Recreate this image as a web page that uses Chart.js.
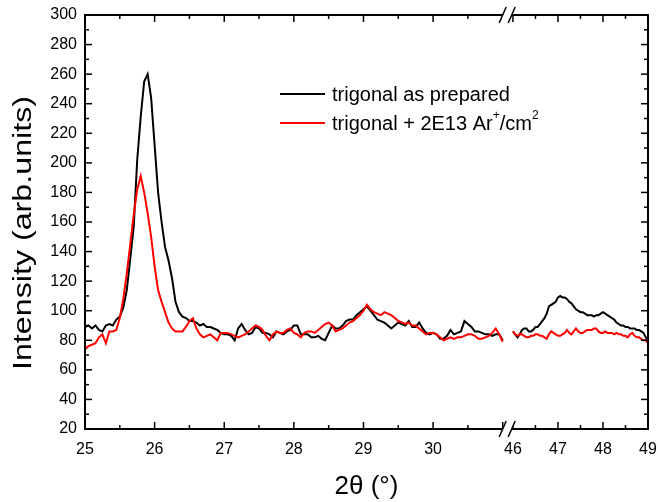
<!DOCTYPE html>
<html>
<head>
<meta charset="utf-8">
<script src="https://cdn.jsdelivr.net/npm/chart.js@4.4.1/dist/chart.umd.min.js"></script>
<style>
  html, body { margin: 0; padding: 0; background: #fff; }
  #caixa { width: 658px; height: 502px; }
</style>
</head>
<body>
<div id="caixa"><canvas id="grafico"></canvas></div>
<script>
// 2theta de 25 a 31 (primeiro trecho do eixo)
const xEsq = [
  25.00, 25.05, 25.10, 25.15, 25.20, 25.25, 25.30, 25.35, 25.40, 25.45, 25.50, 25.55, 25.60, 25.65, 25.70, 25.75, 25.80, 25.85, 25.90, 25.95,
  26.00, 26.05, 26.10, 26.15, 26.20, 26.25, 26.30, 26.35, 26.40, 26.45, 26.50, 26.55, 26.60, 26.65, 26.70, 26.75, 26.80, 26.85, 26.90, 26.95,
  27.00, 27.05, 27.10, 27.15, 27.20, 27.25, 27.30, 27.35, 27.40, 27.45, 27.50, 27.55, 27.60, 27.65, 27.70, 27.75, 27.80, 27.85, 27.90, 27.95,
  28.00, 28.05, 28.10, 28.15, 28.20, 28.25, 28.30, 28.35, 28.40, 28.45, 28.50, 28.55, 28.60, 28.65, 28.70, 28.75, 28.80, 28.85, 28.90, 28.95,
  29.00, 29.05, 29.10, 29.15, 29.20, 29.25, 29.30, 29.35, 29.40, 29.45, 29.50, 29.55, 29.60, 29.65, 29.70, 29.75, 29.80, 29.85, 29.90, 29.95,
  30.00, 30.05, 30.10, 30.15, 30.20, 30.25, 30.30, 30.35, 30.40, 30.45, 30.50, 30.55, 30.60, 30.65, 30.70, 30.75, 30.80, 30.85, 30.90, 30.95,
  31.00
];
const pretoEsq = [
  89, 90, 88, 90, 87, 86, 90, 91, 90, 94, 96, 102, 114, 135, 157, 202, 231, 255, 260, 244,
  212, 180, 160, 143, 134, 122, 106, 99, 96, 95, 93, 93, 92, 90, 91, 89, 89, 88, 87, 85,
  84, 84, 83, 80, 88, 91, 87, 84, 85, 89, 88, 85, 85, 84, 82, 86, 85, 84, 86, 87,
  90, 90, 84, 84, 84, 82, 82, 83, 81, 80, 85, 90, 88, 88, 90, 93, 94, 94, 97, 99,
  101, 103, 100, 97, 94, 93, 92, 90, 88, 90, 92, 91, 90, 93, 89, 89, 92, 88, 85, 84,
  85, 84, 81, 81, 83, 87, 84, 85, 86, 93, 91, 89, 86, 86, 85, 84, 84, 83, 84, 84,
  80
];
const vermelhoEsq = [
  74, 76, 77, 78, 82, 84, 78, 86, 86, 87, 95, 108, 125, 145, 165, 182, 191, 180, 166, 150,
  130, 114, 106, 99, 92, 88, 86, 86, 86, 89, 93, 95, 88, 84, 82, 83, 84, 82, 80, 85,
  85, 85, 84, 83, 82, 83, 84, 86, 88, 90, 89, 87, 83, 80, 84, 86, 85, 85, 87, 88,
  85, 84, 82, 85, 86, 86, 85, 87, 89, 91, 92, 90, 86, 87, 88, 90, 92, 93, 95, 97,
  100, 104, 101, 99, 98, 97, 99, 98, 97, 95, 93, 92, 91, 92, 90, 90, 88, 86, 84, 85,
  85, 84, 82, 80, 81, 82, 81, 82, 82, 83, 84, 84, 83, 81, 81, 82, 83, 85, 88, 84,
  79
];

// 2theta de 46 a 49 (depois da quebra)
const xDir = [
  46.00, 46.05, 46.10, 46.15, 46.20, 46.25, 46.30, 46.35, 46.40, 46.45, 46.50, 46.55, 46.60, 46.65, 46.70, 46.75, 46.80, 46.85, 46.90, 46.95,
  47.00, 47.05, 47.10, 47.15, 47.20, 47.25, 47.30, 47.35, 47.40, 47.45, 47.50, 47.55, 47.60, 47.65, 47.70, 47.75, 47.80, 47.85, 47.90, 47.95,
  48.00, 48.05, 48.10, 48.15, 48.20, 48.25, 48.30, 48.35, 48.40, 48.45, 48.50, 48.55, 48.60, 48.65, 48.70, 48.75, 48.80, 48.85, 48.90, 48.95,
  49.00
];
const pretoDir = [
  86, 84, 82, 84, 87, 88, 88, 86, 86, 87, 89, 89, 91, 93, 95, 98, 103, 104, 105, 106,
  109, 110, 109, 109, 108, 106, 105, 103, 101, 100, 99, 99, 98, 97, 97, 97, 96, 97, 97, 98,
  99, 98, 97, 96, 95, 94, 92, 91, 90, 90, 89, 89, 88, 88, 88, 87, 87, 86, 85, 82,
  80
];
const vermelhoDir = [
  86, 84, 83, 84, 84, 83, 82, 82, 83, 83, 84, 84, 83, 83, 82, 81, 84, 86, 85, 84,
  83, 83, 84, 85, 87, 85, 84, 86, 88, 86, 85, 85, 86, 87, 87, 87, 88, 88, 86, 85,
  85, 86, 85, 85, 85, 84, 85, 84, 84, 83, 83, 82, 84, 85, 83, 82, 82, 81, 80, 80,
  78
];

const ticksY = [20, 40, 60, 80, 100, 120, 140, 160, 180, 200, 220, 240, 260, 280, 300];
const ticksXEsq = [25, 26, 27, 28, 29, 30];
const ticksXDir = [46, 47, 48, 49];

const fonte = '"Liberation Sans", Arial, sans-serif';

function pontos(xs, ys) {
  return xs.map(function (x, i) { return { x: x, y: ys[i] }; });
}

function fixarTicks(lista) {
  return function (escala) {
    escala.ticks = lista.map(function (v) { return { value: v }; });
  };
}

function traco(ctx, x1, y1, x2, y2) {
  ctx.beginPath();
  ctx.moveTo(x1, y1);
  ctx.lineTo(x2, y2);
  ctx.stroke();
}

// moldura, ticks para dentro, quebra do eixo, legenda e titulos
const moldura = {
  id: 'moldura',
  afterDraw(chart) {
    const ctx = chart.ctx;
    const a = chart.chartArea;
    const s = chart.scales;
    ctx.save();
    ctx.strokeStyle = '#000';
    ctx.lineWidth = 1.5;

    for (let v = 20; v <= 300; v += 10) {
      const p = s.y.getPixelForValue(v);
      const len = v % 20 === 0 ? 7 : 4;
      traco(ctx, a.left, p, a.left + len, p);
      traco(ctx, a.right, p, a.right - len, p);
    }
    ['x1', 'x2'].forEach(function (id) {
      const esc = s[id];
      for (let v = Math.ceil(esc.min * 2) / 2; v <= esc.max + 1e-6; v += 0.5) {
        const p = esc.getPixelForValue(v);
        const len = Number.isInteger(v) ? 7 : 4;
        traco(ctx, p, a.bottom, p, a.bottom - len);
        traco(ctx, p, a.top, p, a.top + len);
      }
    });

    ctx.lineWidth = 2;
    ctx.strokeRect(a.left, a.top, a.right - a.left, a.bottom - a.top);

    // quebra
    const bx = s.x1.right + 1;
    [a.top, a.bottom].forEach(function (y) {
      ctx.fillStyle = '#fff';
      ctx.beginPath();
      ctx.moveTo(bx - 8, y + 8);
      ctx.lineTo(bx - 1, y - 8);
      ctx.lineTo(bx + 8, y - 8);
      ctx.lineTo(bx + 1, y + 8);
      ctx.closePath();
      ctx.fill();
      ctx.lineWidth = 1.5;
      traco(ctx, bx - 8, y + 8, bx - 1, y - 8);
      traco(ctx, bx + 1, y + 8, bx + 8, y - 8);
    });

    // legenda
    ctx.fillStyle = '#000';
    ctx.textBaseline = 'middle';
    ctx.textAlign = 'left';
    ctx.font = '20px ' + fonte;
    ctx.lineWidth = 2;
    ctx.strokeStyle = '#000';
    traco(ctx, 280, 94, 325, 94);
    ctx.fillText('trigonal as prepared', 332, 95);
    ctx.strokeStyle = '#ff0000';
    traco(ctx, 280, 123, 325, 123);
    let x = 332;
    const partes = [['trigonal + 2E13 Ar', 0], ['+', 1], ['/cm', 0], ['2', 1]];
    partes.forEach(function (p) {
      ctx.font = (p[1] ? '12px ' : '20px ') + fonte;
      ctx.fillText(p[0], x, p[1] ? 116 : 124);
      x += ctx.measureText(p[0]).width;
    });

    // titulos dos eixos
    ctx.font = '26px ' + fonte;
    ctx.textAlign = 'center';
    ctx.fillText('2\u03b8 (\u00b0)', (a.left + a.right) / 2, 487);
    ctx.translate(24, 233);
    ctx.rotate(-Math.PI / 2);
    const tituloY = 'Intensity (arb.units)';
    ctx.scale(274 / ctx.measureText(tituloY).width, 1);
    ctx.fillText(tituloY, 0, 0);
    ctx.restore();
  }
};

const eixoX = {
  type: 'linear',
  position: 'bottom',
  stack: 'x',
  grid: { display: false, drawTicks: false },
  border: { display: false },
  ticks: { color: '#000', font: { size: 16, family: fonte }, padding: 11, maxRotation: 0 },
  afterFit(e) {
    e.height = 73;
    e.paddingLeft = 0;
    e.paddingRight = 0;
  }
};

new Chart(document.getElementById('grafico'), {
  type: 'line',
  data: {
    datasets: [
      { data: pontos(xEsq, vermelhoEsq), xAxisID: 'x1', borderColor: '#ff0000', order: 0 },
      { data: pontos(xDir, vermelhoDir), xAxisID: 'x2', borderColor: '#ff0000', order: 0 },
      { data: pontos(xEsq, pretoEsq), xAxisID: 'x1', borderColor: '#000000', order: 1 },
      { data: pontos(xDir, pretoDir), xAxisID: 'x2', borderColor: '#000000', order: 1 }
    ]
  },
  options: {
    responsive: true,
    maintainAspectRatio: false,
    animation: false,
    layout: { padding: { top: 15, right: 10, left: 0, bottom: 0 } },
    elements: {
      line: { borderWidth: 2, tension: 0 },
      point: { radius: 0 }
    },
    plugins: { legend: { display: false }, tooltip: { enabled: false } },
    scales: {
      x1: Object.assign({}, eixoX, { min: 25, max: 31.05, stackWeight: 421, afterBuildTicks: fixarTicks(ticksXEsq) }),
      x2: Object.assign({}, eixoX, { min: 45.85, max: 49, stackWeight: 141.75, afterBuildTicks: fixarTicks(ticksXDir) }),
      y: {
        min: 20,
        max: 300,
        afterBuildTicks: fixarTicks(ticksY),
        grid: { display: false, drawTicks: false },
        border: { display: false },
        ticks: { color: '#000', font: { size: 16, family: fonte }, padding: 8 },
        afterFit(e) {
          e.width = 85;
          e.paddingTop = 0;
          e.paddingBottom = 0;
        }
      }
    }
  },
  plugins: [moldura]
});
</script>
</body>
</html>
